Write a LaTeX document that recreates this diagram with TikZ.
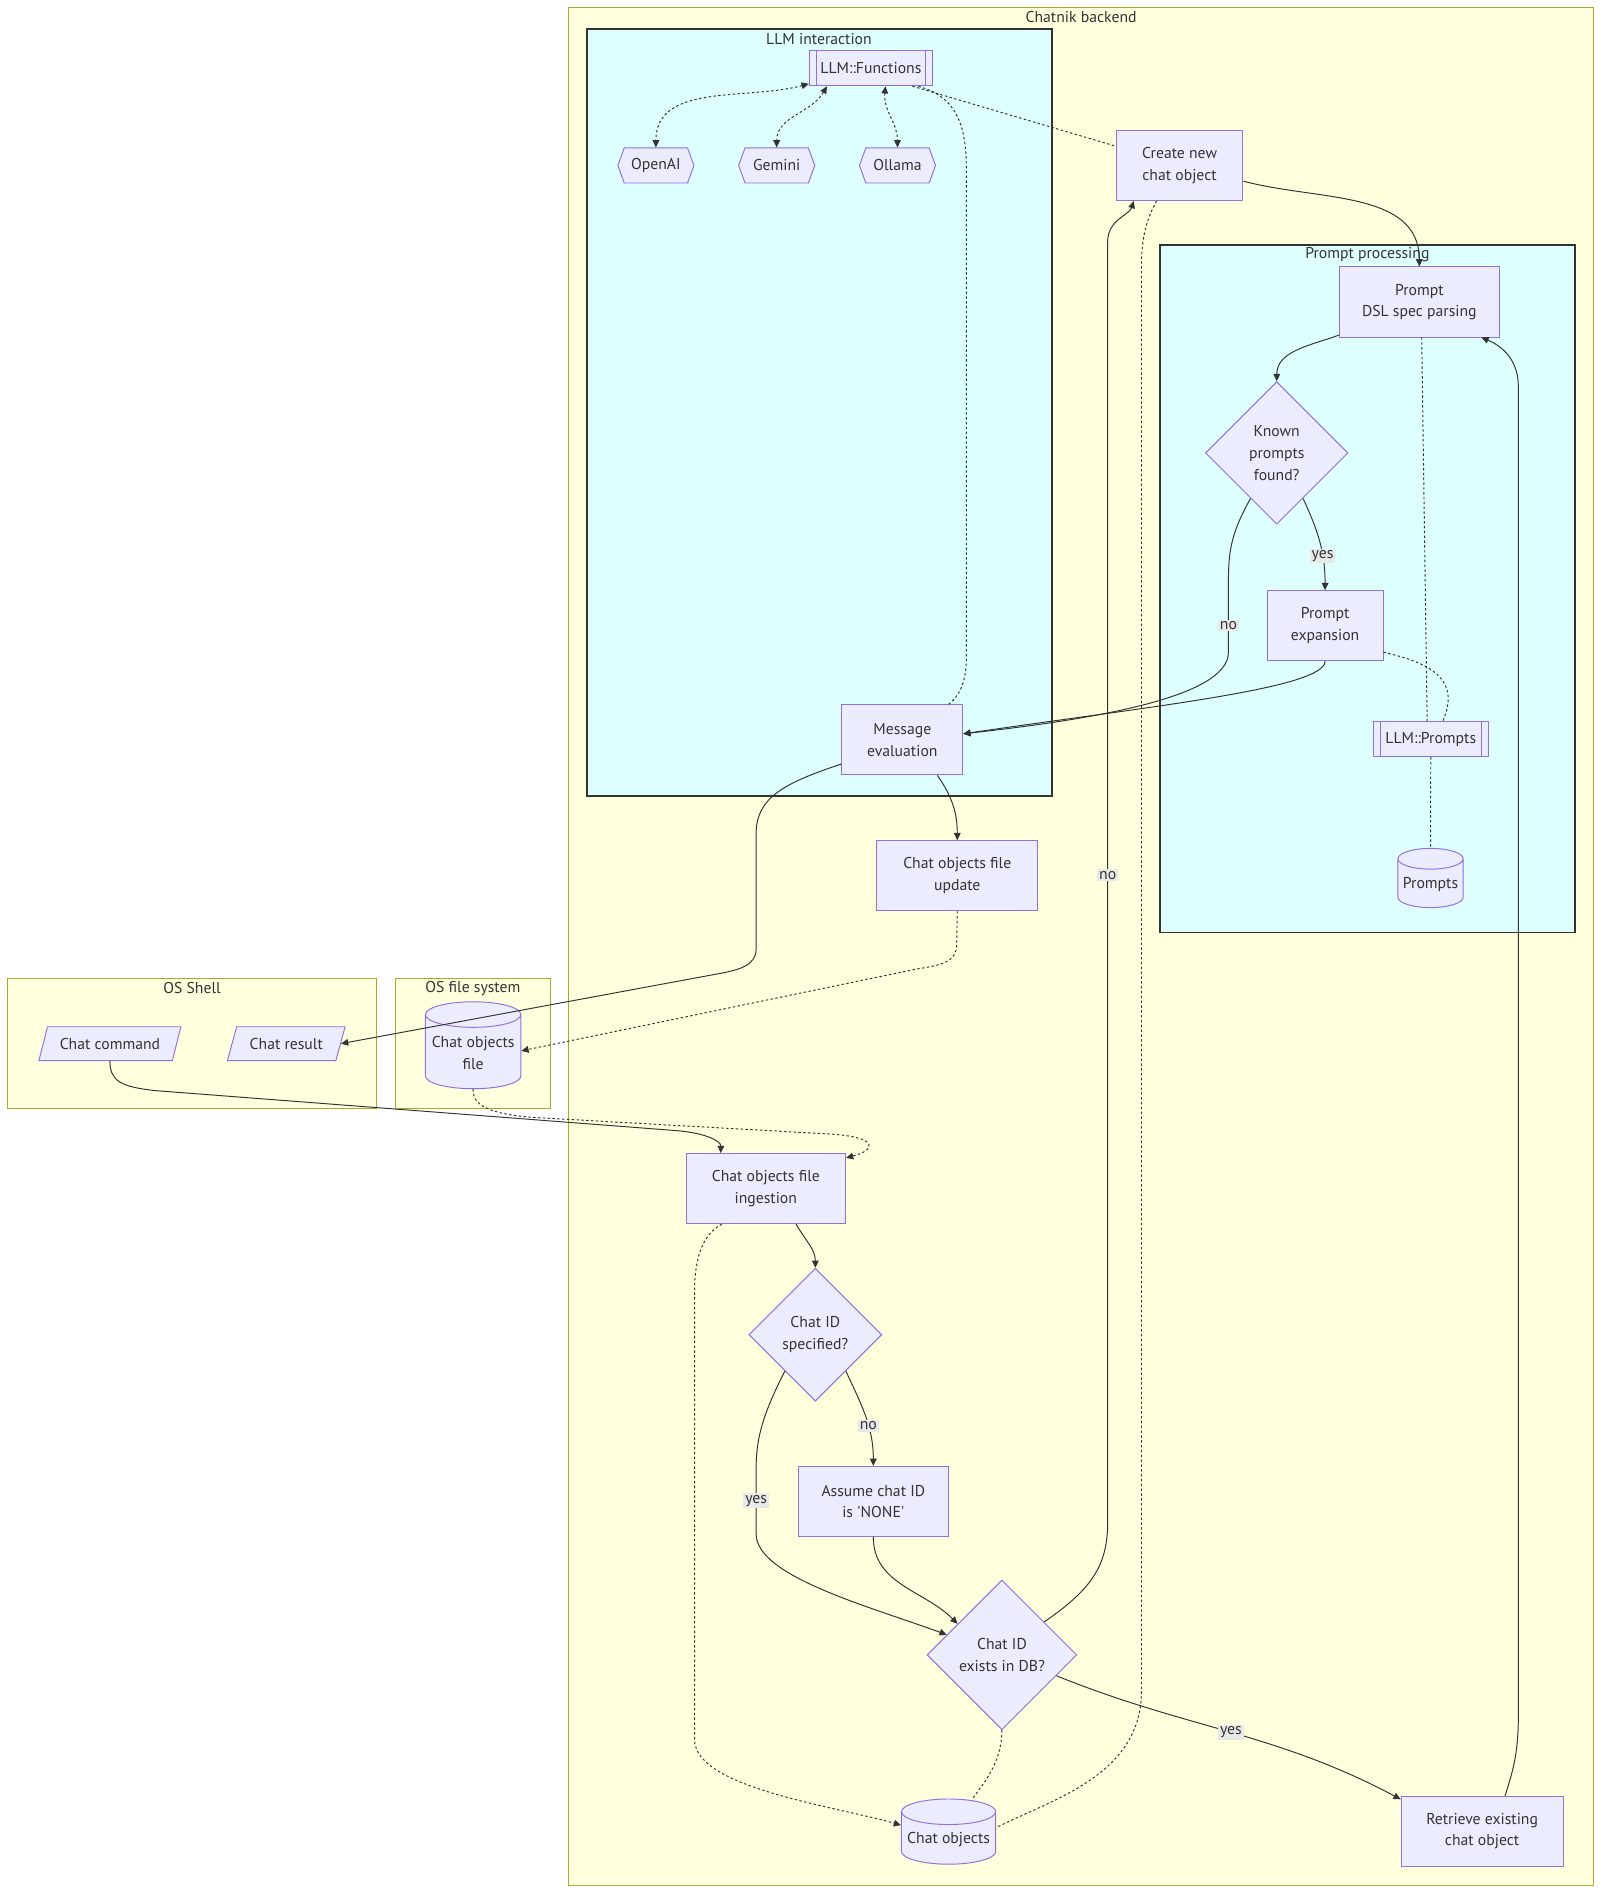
\documentclass[tikz,border=0pt]{standalone}
\usepackage{fontspec}
\setmainfont{PT Sans}
\usepackage{tikz}
\usetikzlibrary{positioning,arrows.meta,shapes.geometric,shapes.symbols}
\definecolor{nodefill}{HTML}{ECECFF}
\definecolor{nodeline}{HTML}{9370DB}
\definecolor{clusterfill}{HTML}{FFFFDE}
\definecolor{clusterline}{HTML}{AAAA33}
\definecolor{subfill}{HTML}{DDFFFF}
\definecolor{subline}{HTML}{333333}
\definecolor{ink}{HTML}{333333}
\definecolor{labelbg}{HTML}{E8E8E8}

\begin{document}
\begin{tikzpicture}[
  x=1pt, y=-1pt,
  >={Triangle[length=6pt,width=5.5pt]},
  every node/.style={font=\fontsize{13}{18}\selectfont, text=ink},
  proc/.style={draw=nodeline, fill=nodefill, line width=0.8pt, align=center, minimum height=58pt, inner sep=2pt},
  subr/.style={proc, minimum height=29pt},
  decision/.style={diamond, aspect=1, draw=nodeline, fill=nodefill, line width=0.8pt, align=center, inner sep=0pt},
  io/.style={trapezium, trapezium left angle=63, trapezium right angle=117, trapezium stretches=true, draw=nodeline, fill=nodefill, line width=0.8pt, minimum height=28pt, inner sep=1pt},
  db/.style={cylinder, shape border rotate=90, aspect=0.3, draw=nodeline, fill=nodefill, line width=0.8pt, align=center, inner sep=1pt},
  hexa/.style={signal, signal to=west and east, signal pointer angle=140, draw=nodeline, fill=nodefill, line width=0.8pt, minimum width=63pt, minimum height=29pt, inner sep=1pt},
  cluster/.style={draw=clusterline, fill=clusterfill, line width=0.8pt},
  subgroup/.style={draw=subline, fill=subfill, line width=1.6pt},
  link/.style={draw=ink, line width=0.8pt},
  dlink/.style={link, dash pattern=on 2pt off 2pt},
  lbl/.style={fill=labelbg, inner sep=1.5pt}
]
\fill[white] (0,0) rectangle (1325,1568);
\useasboundingbox (0,0) rectangle (1325,1568);

% subgraphs
\draw[cluster] (471,6) rectangle (1319,1561);
\node (tback) at (895,14) {Chatnik backend};
\draw[subgroup] (486,24) rectangle (871,659);
\node (tllm) at (678,32) {LLM interaction};
\draw[subgroup] (960,203) rectangle (1304,772);
\node (tpp) at (1132,211) {Prompt processing};
\draw[cluster] (6,810) rectangle (312,918);
\node (tshell) at (159,818) {OS Shell};
\draw[cluster] (327,810) rectangle (456,918);
\node (tfs) at (391.5,818) {OS file system};

% nodes
\node[subr, minimum width=102pt] (fn) at (721,56.5) {LLM::Functions};
\node[hexa] (oai) at (543,137) {OpenAI};
\node[hexa] (gem) at (643,137) {Gemini};
\node[hexa] (oll) at (743,137) {Ollama};
\node[proc, minimum width=105pt] (create) at (976.5,137) {Create new\\chat object};
\node[proc, minimum width=132pt] (dsl) at (1175,250) {Prompt\\DSL spec parsing};
\node[decision, minimum width=118pt, minimum height=118pt] (known) at (1057,375) {Known\\prompts\\found?};
\node[proc, minimum width=96pt] (pexp) at (1097,518) {Prompt\\expansion};
\node[subr, minimum width=95pt] (lp) at (1184.5,612) {LLM::Prompts};
\node[db, aspect=0.36, minimum width=54pt, minimum height=49pt] (prm) at (1184.3,732.5) {Prompts};
\node[proc, minimum width=100pt] (msg) at (747,612.5) {Message\\evaluation};
\node[proc, minimum width=133pt] (cofu) at (792.5,725) {Chat objects file\\update};
\node[io, minimum width=118pt] (ccmd) at (91,864) {Chat command};
\node[io, minimum width=98pt] (cres) at (237,864) {Chat result};
\node[db, minimum width=79pt, minimum height=72pt] (cof) at (391.7,872) {Chat objects\\file};
\node[proc, minimum width=132pt] (ingest) at (634,984) {Chat objects file\\ingestion};
\node[decision, minimum width=110pt, minimum height=110pt] (cids) at (675,1105) {Chat ID\\specified?};
\node[proc, minimum width=124pt] (assume) at (723,1243) {Assume chat ID\\is \textquotesingle NONE\textquotesingle};
\node[decision, minimum width=124pt, minimum height=124pt] (cdb) at (829.5,1370) {Chat ID\\exists in DB?};
\node[db, minimum width=78pt, minimum height=54pt] (cobj) at (785.3,1523) {Chat objects};
\node[proc, minimum width=134pt] (retr) at (1227,1516) {Retrieve existing\\chat object};

\foreach \n in {fn,lp} {
  \draw[nodeline, line width=0.8pt] ([xshift=6pt]\n.north west) -- ([xshift=6pt]\n.south west)
    ([xshift=-6pt]\n.north east) -- ([xshift=-6pt]\n.south east);
}

% LLM interaction
\draw[dlink,<->] ([yshift=2pt]fn.south west) to[out=195,in=90] (oai.north);
\draw[dlink,<->] ([xshift=15pt]fn.south west) to[out=240,in=90] (gem.north);
\draw[dlink,<->] ([xshift=12pt]fn.south) to[out=-95,in=90] (oll.north);
\draw[dlink] ([xshift=-17pt]fn.south east) -- ([yshift=16pt]create.west);
\draw[dlink] ([xshift=-12pt]fn.south east) .. controls (790,80) and (800,100) .. (800,140)
  -- (800,545) .. controls (800,568) and (792,578) .. ([xshift=-12pt]msg.north east);

% prompt processing
\draw[link,->] ([yshift=-13pt]create.east) to[out=-15,in=90] (dsl.north);
\draw[link,->] ([yshift=2pt]dsl.south west) to[out=200,in=90] (known.north);
\draw[link,->] (known.-60) to[out=-65,in=90] node[lbl,pos=0.65] {yes} (pexp.north);
\draw[link,->] (known.-120) .. controls (1020,440) and (1017,455) .. (1017,480)
  -- node[lbl,pos=0.63] {no} (1017,540) .. controls (1017,578) and (900,596) .. ([yshift=5pt]msg.east);
\draw[link,->] (pexp.south) .. controls (1097,570) and (950,585) .. ([yshift=5pt]msg.east);
\draw[dlink] ([xshift=2pt]dsl.south) -- ([xshift=-3pt]lp.north);
\draw[dlink] ([yshift=-22pt]pexp.east) .. controls (1190,550) and (1208,565) .. ([xshift=10pt]lp.north);
\draw[dlink] (lp.south) -- (prm.north);

% results and files
\draw[link,->] ([xshift=29pt]msg.south) to[out=-55,in=90] (cofu.north);
\draw[link,->] ([yshift=-20pt]msg.west) .. controls (650,648) and (626,660) .. (626,690)
  -- (626,785) .. controls (626,800) and (612,803) .. (590,807) -- (cres.east);
\draw[dlink,->] (cofu.south) -- (792,782) .. controls (792,796) and (780,799) .. (760,802)
  -- ([yshift=2pt]cof.east);
\draw[link,->] (ccmd.center |- ccmd.south) .. controls (91,895) and (100,900) .. (130,903)
  -- (560,936) .. controls (585,938) and (597,945) .. ([xshift=29pt]ingest.north west);
\draw[dlink,->] (cof.south) .. controls (391,915) and (405,922) .. (440,925)
  -- (690,939) .. controls (728,942) and (725,952) .. ([yshift=-4pt]ingest.north east);

% chat id handling
\draw[link,->] ([xshift=25pt]ingest.south) to[out=-60,in=90] (cids.north);
\draw[link,->] (cids.-50) to[out=-65,in=90] node[lbl,pos=0.6] {no} (assume.north);
\draw[link,->] (cids.-130) .. controls (632,1170) and (626,1190) .. (626,1215)
  -- node[lbl] {yes} (626,1270) .. controls (626,1305) and (720,1330) .. (cdb.160);
\draw[link,->] (assume.south) to[out=-90,in=135] (cdb.145);
\draw[link,->] (cdb.38) .. controls (905,1315) and (917,1295) .. (917,1260)
  -- node[lbl,pos=0.505] {no} (917,200) .. controls (917,182) and (935,178) .. ([xshift=15pt]create.south west);
\draw[link,->] (cdb.-21) to[out=-22,in=152] node[lbl] {yes} ([yshift=-3pt]retr.north west);
\draw[link,->] ([xshift=19pt]retr.north) .. controls (1253,1465) and (1257,1450) .. (1257,1420)
  -- (1257,320) .. controls (1257,295) and (1240,285) .. ([xshift=-15pt]dsl.south east);

% chat objects store
\draw[dlink,->] ([xshift=30pt]ingest.south west) .. controls (582,1022) and (575,1040) .. (575,1070)
  -- (575,1440) .. controls (575,1480) and (690,1495) .. ([yshift=12pt]cobj.west);
\draw[dlink] (cdb.south) .. controls (829,1460) and (815,1475) .. ([xshift=20pt]cobj.north);
\draw[dlink] ([xshift=-19pt]create.south) .. controls (950,180) and (945,195) .. (945,220)
  -- (945,1400) .. controls (945,1470) and (870,1490) .. ([yshift=10pt]cobj.east);
\end{tikzpicture}
\end{document}
